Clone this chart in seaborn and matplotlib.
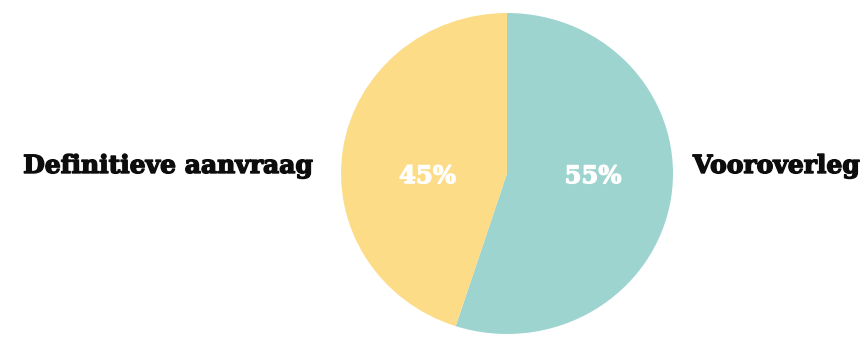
import matplotlib
matplotlib.use("Agg")
import matplotlib.pyplot as plt
import matplotlib.patheffects as pe
import seaborn as sns

categories = ["Vooroverleg", "Definitieve aanvraag"]
values = [55, 45]
colors = ["#9ED4CF", "#FDDC87"]

sns.set_theme(style="white")
plt.rcParams["font.family"] = ["DejaVu Serif", "DejaVu Sans"]

fig = plt.figure(figsize=(8.67, 3.37), dpi=100)
ax = fig.add_axes([341 / 867, 3 / 337, 332 / 867, 321 / 337])

wedges, texts, autotexts = ax.pie(
    values,
    colors=colors,
    startangle=90,
    counterclock=False,
    autopct=lambda p: f"{p:.0f}%",
    pctdistance=0.505,
    radius=1.0,
    wedgeprops=dict(linewidth=0, antialiased=True),
    textprops=dict(color="white", fontsize=17.5, fontweight="bold"),
)
for t in autotexts:
    x, y = t.get_position()
    t.set_position((x + 0.02, -0.06))
    t.set_va("baseline")
    t.set_path_effects([pe.withStroke(linewidth=0.9, foreground="white")])

ax.set_xlim(-1, 1)
ax.set_ylim(-1, 1)
ax.set_aspect("auto")
ax.axis("off")

label_fx = [pe.withStroke(linewidth=1.0, foreground="#0d0d0d")]
fig.text(313 / 867, 1 - 173 / 337, categories[1], ha="right", va="baseline",
         fontsize=18, fontweight="bold", color="#0d0d0d", path_effects=label_fx)
fig.text(693 / 867, 1 - 173 / 337, categories[0], ha="left", va="baseline",
         fontsize=18, fontweight="bold", color="#0d0d0d", path_effects=label_fx)

fig.savefig("out.png", dpi=100, facecolor="white")
